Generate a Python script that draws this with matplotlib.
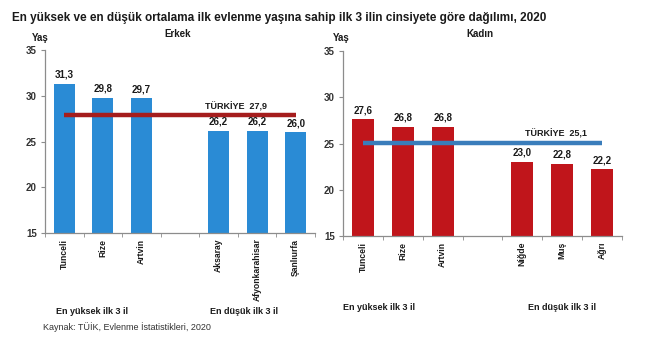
import matplotlib
matplotlib.use("Agg")
import matplotlib.pyplot as plt
from matplotlib.ticker import FixedLocator

plt.rcParams['font.family'] = ['Liberation Sans', 'DejaVu Sans']

# ---- data ----
title = "En yüksek ve en düşük ortalama ilk evlenme yaşına sahip ilk 3 ilin cinsiyete göre dağılımı, 2020"
erkek_iller = ["Tunceli", "Rize", "Artvin", "Aksaray", "Afyonkarahisar", "Şanlıurfa"]
erkek_yas = [31.3, 29.8, 29.7, 26.2, 26.2, 26.0]
turkiye_erkek = 27.9
kadin_iller = ["Tunceli", "Rize", "Artvin", "Niğde", "Muş", "Ağrı"]
kadin_yas = [27.6, 26.8, 26.8, 23.0, 22.8, 22.2]
turkiye_kadin = 25.1
yticks = [15, 20, 25, 30, 35]
grup_etiketleri = ["En yüksek ilk 3 il", "En düşük ilk 3 il"]
kaynak = "Kaynak: TÜİK, Evlenme İstatistikleri, 2020"

W, H = 650, 360
fig = plt.figure(figsize=(W / 100, H / 100), dpi=100)

def fx(px):
    return px / W

def fy(py):
    return 1 - py / H

txt_col = "#1a1a1a"
spine_col = "#8c8c8c"

def panel(rect, iller, vals, avg, bar_col, line_col, lbl_xy):
    ax = fig.add_axes(rect)
    pos = [0, 1, 2, 4, 5, 6]
    ax.bar(pos, vals, width=0.55, color=bar_col, zorder=2)
    ax.plot([pos[0], pos[-1]], [avg, avg], color=line_col, lw=3.2, zorder=3,
            solid_capstyle='butt')
    for p, v in zip(pos, vals):
        ax.annotate(f"{v:.1f}".replace('.', ','), (p, v), xytext=(0, 3),
                    textcoords='offset points', ha='center', va='bottom',
                    fontsize=7, fontweight='bold', color=txt_col)
    ax.text(lbl_xy[0], lbl_xy[1], f"TÜRKİYE  {avg:.1f}".replace('.', ','),
            ha='center', va='center', fontsize=6.5, fontweight='bold', color=txt_col)
    ax.set_xlim(-0.5, 6.5)
    ax.set_ylim(15, 35)
    ax.set_yticks(yticks)
    ax.set_yticklabels([str(t) for t in yticks], fontsize=7, fontweight='bold',
                       color="#333333")
    ax.set_xticks(pos)
    ax.set_xticklabels(iller, rotation=90, fontsize=6.2, fontweight='bold',
                       color=txt_col, va='top', ha='center')
    ax.xaxis.set_minor_locator(FixedLocator([-0.5, 0.5, 1.5, 2.5, 3.5, 4.5, 5.5, 6.5]))
    ax.tick_params(axis='x', which='major', length=0, pad=4)
    ax.tick_params(axis='x', which='minor', length=3, color=spine_col, direction='out')
    ax.tick_params(axis='y', length=3, color=spine_col, pad=3)
    for s in ['top', 'right']:
        ax.spines[s].set_visible(False)
    for s in ['left', 'bottom']:
        ax.spines[s].set_color(spine_col)
        ax.spines[s].set_linewidth(0.9)
    return ax

panel([fx(45), fy(233), fx(315) - fx(45), fy(50) - fy(233)],
      erkek_iller, erkek_yas, turkiye_erkek, "#2a8bd5", "#a51d1d", (4.45, 28.8))
panel([fx(343), fy(236), fx(622) - fx(343), fy(51) - fy(236)],
      kadin_iller, kadin_yas, turkiye_kadin, "#c0151b", "#3a7dbb", (4.85, 26.0))

fig.text(fx(12), fy(18), title, fontsize=8.5, fontweight='bold', color=txt_col,
         ha='left', va='center')
fig.text(fx(40), fy(38), "Yaş", fontsize=7, fontweight='bold', color=txt_col, ha='center', va='center')
fig.text(fx(341), fy(38), "Yaş", fontsize=7, fontweight='bold', color=txt_col, ha='center', va='center')
fig.text(fx(178), fy(34), "Erkek", fontsize=7, fontweight='bold', color=txt_col, ha='center', va='center')
fig.text(fx(480), fy(34), "Kadın", fontsize=7, fontweight='bold', color=txt_col, ha='center', va='center')

fig.text(fx(92), fy(311), grup_etiketleri[0], fontsize=6.5, fontweight='bold', color=txt_col, ha='center', va='center')
fig.text(fx(244), fy(312), grup_etiketleri[1], fontsize=6.5, fontweight='bold', color=txt_col, ha='center', va='center')
fig.text(fx(379), fy(307), grup_etiketleri[0], fontsize=6.5, fontweight='bold', color=txt_col, ha='center', va='center')
fig.text(fx(562), fy(307), grup_etiketleri[1], fontsize=6.5, fontweight='bold', color=txt_col, ha='center', va='center')

fig.text(fx(43), fy(327), kaynak, fontsize=6.5, color="#333333", ha='left', va='center')

fig.savefig("out.png", dpi=100, facecolor='white')
